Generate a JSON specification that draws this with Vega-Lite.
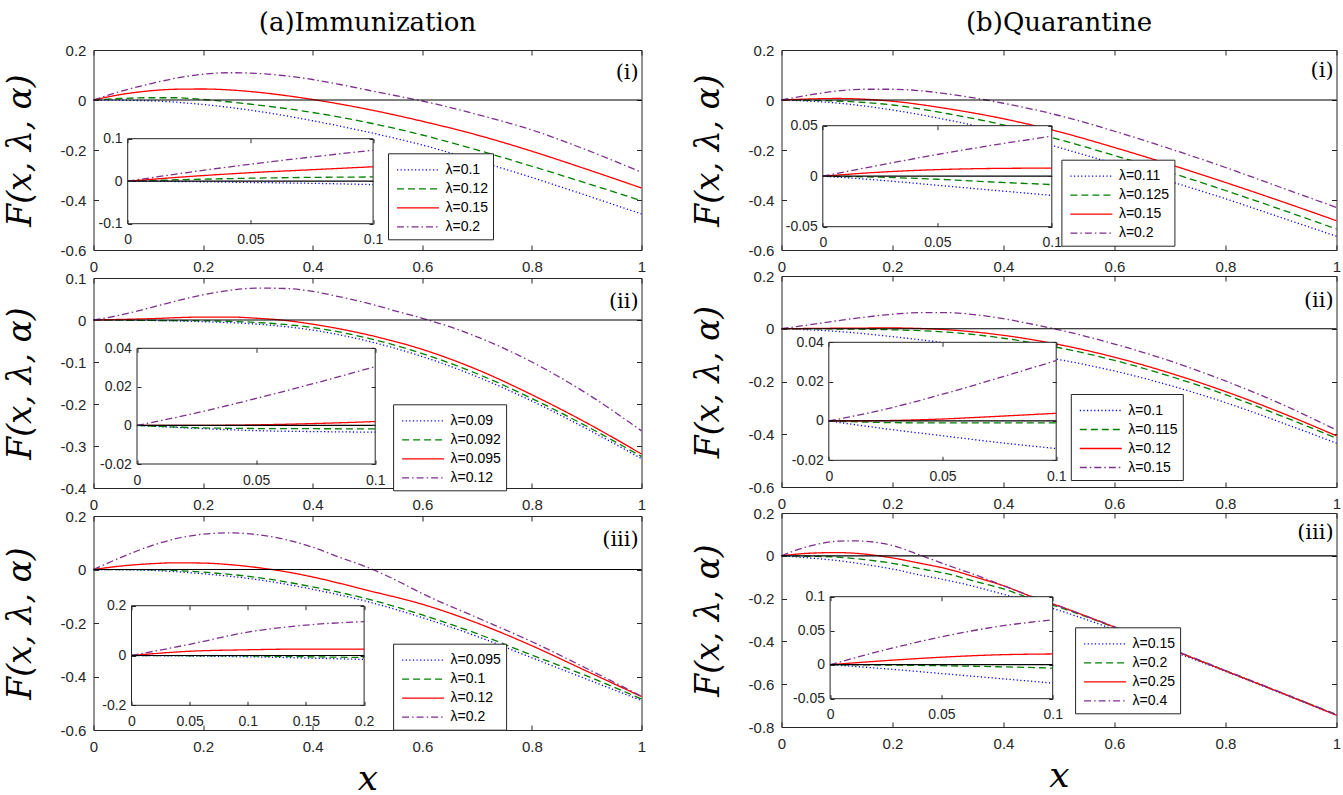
{
"padding": {"left": 3.5, "top": 9, "right": 0, "bottom": 0},
"spacing": 45,
"resolve": {"scale": {"color": "independent", "strokeDash": "independent"}},
"config": {
  "view": {"stroke": "#262626", "strokeWidth": 1},
  "numberFormat": "~g",
  "locale": {"number": {"decimal": ".", "thousands": ",", "grouping": [3], "currency": ["$", ""], "minus": "-"}},
  "line": {"strokeWidth": 1.3, "interpolate": "monotone"},
  "axis": {"grid": false, "domain": false, "tickSize": -5, "tickColor": "#262626", "labelFont": "Liberation Sans", "labelFontSize": 15, "labelColor": "#262626", "labelFlush": false, "labelOverlap": false, "labelBound": false, "titleFont": "DejaVu Serif", "titleFontStyle": "italic", "titleFontWeight": "normal", "titleColor": "#000000"},
  "axisX": {"labelPadding": 14.5, "titleAngle": 0, "titleBaseline": "alphabetic", "titleAlign": "center", "titleFontSize": 36},
  "axisY": {"labelPadding": 12.6, "titleX": -73, "titleAngle": -90, "titleBaseline": "middle", "titleAlign": "center", "titleFontSize": 33},
  "legend": {"symbolType": "M-2,0H2", "symbolSize": 441, "symbolStrokeWidth": 1.3, "labelFont": "Liberation Sans", "labelFontSize": 14, "labelColor": "#000000", "padding": 5, "rowPadding": 0, "labelOffset": 16, "symbolOffset": 13.5, "strokeColor": "#262626", "fillColor": "#ffffff"},
  "title": {"font": "DejaVu Serif", "fontSize": 26, "fontWeight": "normal", "color": "#000000", "anchor": "middle", "frame": "group", "offset": 7}
},
"datasets": {
"ai": [
{"s":"λ=0.1","x":0,"y":0},{"s":"λ=0.1","x":0.1,"y":-0.003},{"s":"λ=0.1","x":0.2,"y":-0.018},{"s":"λ=0.1","x":0.3,"y":-0.045},{"s":"λ=0.1","x":0.4,"y":-0.083},{"s":"λ=0.1","x":0.5,"y":-0.128},{"s":"λ=0.1","x":0.6,"y":-0.18},{"s":"λ=0.1","x":0.7,"y":-0.243},{"s":"λ=0.1","x":0.8,"y":-0.31},{"s":"λ=0.1","x":0.9,"y":-0.382},{"s":"λ=0.1","x":1,"y":-0.456},
{"s":"λ=0.12","x":0,"y":0},{"s":"λ=0.12","x":0.05,"y":0.006},{"s":"λ=0.12","x":0.1,"y":0.009},{"s":"λ=0.12","x":0.15,"y":0.009},{"s":"λ=0.12","x":0.2,"y":0.002},{"s":"λ=0.12","x":0.25,"y":-0.008},{"s":"λ=0.12","x":0.3,"y":-0.02},{"s":"λ=0.12","x":0.4,"y":-0.05},{"s":"λ=0.12","x":0.5,"y":-0.09},{"s":"λ=0.12","x":0.6,"y":-0.14},{"s":"λ=0.12","x":0.7,"y":-0.2},{"s":"λ=0.12","x":0.8,"y":-0.265},{"s":"λ=0.12","x":0.9,"y":-0.333},{"s":"λ=0.12","x":1,"y":-0.403},
{"s":"λ=0.15","x":0,"y":0},{"s":"λ=0.15","x":0.05,"y":0.022},{"s":"λ=0.15","x":0.1,"y":0.036},{"s":"λ=0.15","x":0.15,"y":0.043},{"s":"λ=0.15","x":0.2,"y":0.044},{"s":"λ=0.15","x":0.25,"y":0.04},{"s":"λ=0.15","x":0.3,"y":0.031},{"s":"λ=0.15","x":0.35,"y":0.018},{"s":"λ=0.15","x":0.4,"y":0.002},{"s":"λ=0.15","x":0.5,"y":-0.037},{"s":"λ=0.15","x":0.6,"y":-0.085},{"s":"λ=0.15","x":0.7,"y":-0.14},{"s":"λ=0.15","x":0.8,"y":-0.205},{"s":"λ=0.15","x":0.9,"y":-0.277},{"s":"λ=0.15","x":1,"y":-0.352},
{"s":"λ=0.2","x":0,"y":0},{"s":"λ=0.2","x":0.05,"y":0.035},{"s":"λ=0.2","x":0.1,"y":0.063},{"s":"λ=0.2","x":0.15,"y":0.087},{"s":"λ=0.2","x":0.2,"y":0.103},{"s":"λ=0.2","x":0.25,"y":0.109},{"s":"λ=0.2","x":0.3,"y":0.106},{"s":"λ=0.2","x":0.35,"y":0.097},{"s":"λ=0.2","x":0.4,"y":0.082},{"s":"λ=0.2","x":0.45,"y":0.062},{"s":"λ=0.2","x":0.5,"y":0.04},{"s":"λ=0.2","x":0.55,"y":0.018},{"s":"λ=0.2","x":0.6,"y":-0.004},{"s":"λ=0.2","x":0.7,"y":-0.058},{"s":"λ=0.2","x":0.8,"y":-0.12},{"s":"λ=0.2","x":0.9,"y":-0.2},{"s":"λ=0.2","x":1,"y":-0.289}
],
"ai_in": [
{"s":"λ=0.1","x":0,"y":0},{"s":"λ=0.1","x":0.025,"y":-0.001},{"s":"λ=0.1","x":0.05,"y":-0.003},{"s":"λ=0.1","x":0.075,"y":-0.005},{"s":"λ=0.1","x":0.1,"y":-0.008},
{"s":"λ=0.12","x":0,"y":0},{"s":"λ=0.12","x":0.025,"y":0.004},{"s":"λ=0.12","x":0.05,"y":0.007},{"s":"λ=0.12","x":0.075,"y":0.009},{"s":"λ=0.12","x":0.1,"y":0.01},
{"s":"λ=0.15","x":0,"y":0},{"s":"λ=0.15","x":0.025,"y":0.011},{"s":"λ=0.15","x":0.05,"y":0.02},{"s":"λ=0.15","x":0.075,"y":0.027},{"s":"λ=0.15","x":0.1,"y":0.034},
{"s":"λ=0.2","x":0,"y":0},{"s":"λ=0.2","x":0.025,"y":0.021},{"s":"λ=0.2","x":0.05,"y":0.04},{"s":"λ=0.2","x":0.075,"y":0.057},{"s":"λ=0.2","x":0.1,"y":0.073}
],
"aii": [
{"s":"λ=0.09","x":0,"y":0},{"s":"λ=0.09","x":0.1,"y":-0.001},{"s":"λ=0.09","x":0.2,"y":-0.004},{"s":"λ=0.09","x":0.3,"y":-0.01},{"s":"λ=0.09","x":0.4,"y":-0.024},{"s":"λ=0.09","x":0.5,"y":-0.05},{"s":"λ=0.09","x":0.6,"y":-0.087},{"s":"λ=0.09","x":0.7,"y":-0.135},{"s":"λ=0.09","x":0.8,"y":-0.193},{"s":"λ=0.09","x":0.9,"y":-0.259},{"s":"λ=0.09","x":1,"y":-0.33},
{"s":"λ=0.092","x":0,"y":0},{"s":"λ=0.092","x":0.1,"y":-0.001},{"s":"λ=0.092","x":0.2,"y":-0.002},{"s":"λ=0.092","x":0.3,"y":-0.006},{"s":"λ=0.092","x":0.4,"y":-0.018},{"s":"λ=0.092","x":0.5,"y":-0.043},{"s":"λ=0.092","x":0.6,"y":-0.08},{"s":"λ=0.092","x":0.7,"y":-0.128},{"s":"λ=0.092","x":0.8,"y":-0.187},{"s":"λ=0.092","x":0.9,"y":-0.253},{"s":"λ=0.092","x":1,"y":-0.325},
{"s":"λ=0.095","x":0,"y":0},{"s":"λ=0.095","x":0.1,"y":0.003},{"s":"λ=0.095","x":0.2,"y":0.007},{"s":"λ=0.095","x":0.25,"y":0.007},{"s":"λ=0.095","x":0.3,"y":0.004},{"s":"λ=0.095","x":0.35,"y":-0.001},{"s":"λ=0.095","x":0.4,"y":-0.01},{"s":"λ=0.095","x":0.5,"y":-0.035},{"s":"λ=0.095","x":0.6,"y":-0.07},{"s":"λ=0.095","x":0.7,"y":-0.118},{"s":"λ=0.095","x":0.8,"y":-0.178},{"s":"λ=0.095","x":0.9,"y":-0.245},{"s":"λ=0.095","x":1,"y":-0.319},
{"s":"λ=0.12","x":0,"y":0},{"s":"λ=0.12","x":0.05,"y":0.012},{"s":"λ=0.12","x":0.1,"y":0.028},{"s":"λ=0.12","x":0.15,"y":0.045},{"s":"λ=0.12","x":0.2,"y":0.06},{"s":"λ=0.12","x":0.25,"y":0.071},{"s":"λ=0.12","x":0.3,"y":0.076},{"s":"λ=0.12","x":0.35,"y":0.075},{"s":"λ=0.12","x":0.4,"y":0.068},{"s":"λ=0.12","x":0.45,"y":0.055},{"s":"λ=0.12","x":0.5,"y":0.04},{"s":"λ=0.12","x":0.55,"y":0.022},{"s":"λ=0.12","x":0.6,"y":0.004},{"s":"λ=0.12","x":0.65,"y":-0.016},{"s":"λ=0.12","x":0.7,"y":-0.04},{"s":"λ=0.12","x":0.8,"y":-0.1},{"s":"λ=0.12","x":0.9,"y":-0.175},{"s":"λ=0.12","x":1,"y":-0.264}
],
"aii_in": [
{"s":"λ=0.09","x":0,"y":0},{"s":"λ=0.09","x":0.025,"y":-0.0015},{"s":"λ=0.09","x":0.05,"y":-0.0027},{"s":"λ=0.09","x":0.075,"y":-0.0032},{"s":"λ=0.09","x":0.1,"y":-0.0035},
{"s":"λ=0.092","x":0,"y":0},{"s":"λ=0.092","x":0.025,"y":-0.0012},{"s":"λ=0.092","x":0.05,"y":-0.0016},{"s":"λ=0.092","x":0.075,"y":-0.0017},{"s":"λ=0.092","x":0.1,"y":-0.0018},
{"s":"λ=0.095","x":0,"y":0},{"s":"λ=0.095","x":0.025,"y":0},{"s":"λ=0.095","x":0.05,"y":0.0003},{"s":"λ=0.095","x":0.075,"y":0.001},{"s":"λ=0.095","x":0.1,"y":0.002},
{"s":"λ=0.12","x":0,"y":0},{"s":"λ=0.12","x":0.025,"y":0.0065},{"s":"λ=0.12","x":0.05,"y":0.014},{"s":"λ=0.12","x":0.075,"y":0.022},{"s":"λ=0.12","x":0.1,"y":0.0305}
],
"aiii": [
{"s":"λ=0.095","x":0,"y":0},{"s":"λ=0.095","x":0.1,"y":-0.003},{"s":"λ=0.095","x":0.2,"y":-0.016},{"s":"λ=0.095","x":0.3,"y":-0.038},{"s":"λ=0.095","x":0.4,"y":-0.074},{"s":"λ=0.095","x":0.5,"y":-0.12},{"s":"λ=0.095","x":0.6,"y":-0.18},{"s":"λ=0.095","x":0.7,"y":-0.25},{"s":"λ=0.095","x":0.8,"y":-0.33},{"s":"λ=0.095","x":0.9,"y":-0.41},{"s":"λ=0.095","x":1,"y":-0.49},
{"s":"λ=0.1","x":0,"y":0},{"s":"λ=0.1","x":0.1,"y":-0.001},{"s":"λ=0.1","x":0.2,"y":-0.01},{"s":"λ=0.1","x":0.3,"y":-0.03},{"s":"λ=0.1","x":0.4,"y":-0.065},{"s":"λ=0.1","x":0.5,"y":-0.11},{"s":"λ=0.1","x":0.6,"y":-0.17},{"s":"λ=0.1","x":0.7,"y":-0.24},{"s":"λ=0.1","x":0.8,"y":-0.32},{"s":"λ=0.1","x":0.9,"y":-0.398},{"s":"λ=0.1","x":1,"y":-0.484},
{"s":"λ=0.12","x":0,"y":0},{"s":"λ=0.12","x":0.05,"y":0.013},{"s":"λ=0.12","x":0.1,"y":0.021},{"s":"λ=0.12","x":0.15,"y":0.025},{"s":"λ=0.12","x":0.2,"y":0.024},{"s":"λ=0.12","x":0.25,"y":0.018},{"s":"λ=0.12","x":0.3,"y":0.007},{"s":"λ=0.12","x":0.35,"y":-0.008},{"s":"λ=0.12","x":0.4,"y":-0.028},{"s":"λ=0.12","x":0.5,"y":-0.078},{"s":"λ=0.12","x":0.6,"y":-0.13},{"s":"λ=0.12","x":0.7,"y":-0.2},{"s":"λ=0.12","x":0.8,"y":-0.285},{"s":"λ=0.12","x":0.9,"y":-0.38},{"s":"λ=0.12","x":1,"y":-0.475},
{"s":"λ=0.2","x":0,"y":0},{"s":"λ=0.2","x":0.05,"y":0.045},{"s":"λ=0.2","x":0.1,"y":0.085},{"s":"λ=0.2","x":0.15,"y":0.115},{"s":"λ=0.2","x":0.2,"y":0.132},{"s":"λ=0.2","x":0.25,"y":0.137},{"s":"λ=0.2","x":0.3,"y":0.13},{"s":"λ=0.2","x":0.35,"y":0.112},{"s":"λ=0.2","x":0.4,"y":0.083},{"s":"λ=0.2","x":0.45,"y":0.045},{"s":"λ=0.2","x":0.5,"y":0.008},{"s":"λ=0.2","x":0.55,"y":-0.038},{"s":"λ=0.2","x":0.6,"y":-0.09},{"s":"λ=0.2","x":0.7,"y":-0.18},{"s":"λ=0.2","x":0.8,"y":-0.27},{"s":"λ=0.2","x":0.9,"y":-0.37},{"s":"λ=0.2","x":1,"y":-0.474}
],
"aiii_in": [
{"s":"λ=0.095","x":0,"y":0},{"s":"λ=0.095","x":0.05,"y":-0.002},{"s":"λ=0.095","x":0.1,"y":-0.005},{"s":"λ=0.095","x":0.15,"y":-0.01},{"s":"λ=0.095","x":0.2,"y":-0.016},
{"s":"λ=0.1","x":0,"y":0},{"s":"λ=0.1","x":0.05,"y":-0.001},{"s":"λ=0.1","x":0.1,"y":-0.002},{"s":"λ=0.1","x":0.15,"y":-0.005},{"s":"λ=0.1","x":0.2,"y":-0.008},
{"s":"λ=0.12","x":0,"y":0},{"s":"λ=0.12","x":0.05,"y":0.017},{"s":"λ=0.12","x":0.1,"y":0.023},{"s":"λ=0.12","x":0.15,"y":0.026},{"s":"λ=0.12","x":0.2,"y":0.026},
{"s":"λ=0.2","x":0,"y":0},{"s":"λ=0.2","x":0.05,"y":0.045},{"s":"λ=0.2","x":0.1,"y":0.094},{"s":"λ=0.2","x":0.15,"y":0.122},{"s":"λ=0.2","x":0.2,"y":0.136}
],
"bi": [
{"s":"λ=0.11","x":0,"y":0},{"s":"λ=0.11","x":0.1,"y":-0.012},{"s":"λ=0.11","x":0.2,"y":-0.04},{"s":"λ=0.11","x":0.3,"y":-0.08},{"s":"λ=0.11","x":0.4,"y":-0.13},{"s":"λ=0.11","x":0.5,"y":-0.19},{"s":"λ=0.11","x":0.6,"y":-0.255},{"s":"λ=0.11","x":0.7,"y":-0.325},{"s":"λ=0.11","x":0.8,"y":-0.395},{"s":"λ=0.11","x":0.9,"y":-0.47},{"s":"λ=0.11","x":1,"y":-0.545},
{"s":"λ=0.125","x":0,"y":0},{"s":"λ=0.125","x":0.1,"y":-0.004},{"s":"λ=0.125","x":0.2,"y":-0.02},{"s":"λ=0.125","x":0.3,"y":-0.055},{"s":"λ=0.125","x":0.4,"y":-0.1},{"s":"λ=0.125","x":0.5,"y":-0.158},{"s":"λ=0.125","x":0.6,"y":-0.222},{"s":"λ=0.125","x":0.7,"y":-0.29},{"s":"λ=0.125","x":0.8,"y":-0.362},{"s":"λ=0.125","x":0.9,"y":-0.438},{"s":"λ=0.125","x":1,"y":-0.516},
{"s":"λ=0.15","x":0,"y":0},{"s":"λ=0.15","x":0.05,"y":0.004},{"s":"λ=0.15","x":0.1,"y":0.006},{"s":"λ=0.15","x":0.15,"y":0.003},{"s":"λ=0.15","x":0.2,"y":-0.005},{"s":"λ=0.15","x":0.3,"y":-0.035},{"s":"λ=0.15","x":0.4,"y":-0.075},{"s":"λ=0.15","x":0.5,"y":-0.127},{"s":"λ=0.15","x":0.6,"y":-0.19},{"s":"λ=0.15","x":0.7,"y":-0.258},{"s":"λ=0.15","x":0.8,"y":-0.33},{"s":"λ=0.15","x":0.9,"y":-0.405},{"s":"λ=0.15","x":1,"y":-0.483},
{"s":"λ=0.2","x":0,"y":0},{"s":"λ=0.2","x":0.05,"y":0.02},{"s":"λ=0.2","x":0.1,"y":0.036},{"s":"λ=0.2","x":0.15,"y":0.043},{"s":"λ=0.2","x":0.2,"y":0.043},{"s":"λ=0.2","x":0.25,"y":0.037},{"s":"λ=0.2","x":0.3,"y":0.024},{"s":"λ=0.2","x":0.35,"y":0.007},{"s":"λ=0.2","x":0.4,"y":-0.013},{"s":"λ=0.2","x":0.5,"y":-0.062},{"s":"λ=0.2","x":0.6,"y":-0.125},{"s":"λ=0.2","x":0.7,"y":-0.195},{"s":"λ=0.2","x":0.8,"y":-0.27},{"s":"λ=0.2","x":0.9,"y":-0.35},{"s":"λ=0.2","x":1,"y":-0.43}
],
"bi_in": [
{"s":"λ=0.11","x":0,"y":0},{"s":"λ=0.11","x":0.025,"y":-0.004},{"s":"λ=0.11","x":0.05,"y":-0.009},{"s":"λ=0.11","x":0.075,"y":-0.014},{"s":"λ=0.11","x":0.1,"y":-0.019},
{"s":"λ=0.125","x":0,"y":0},{"s":"λ=0.125","x":0.025,"y":-0.001},{"s":"λ=0.125","x":0.05,"y":-0.003},{"s":"λ=0.125","x":0.075,"y":-0.0058},{"s":"λ=0.125","x":0.1,"y":-0.0083},
{"s":"λ=0.15","x":0,"y":0},{"s":"λ=0.15","x":0.025,"y":0.004},{"s":"λ=0.15","x":0.05,"y":0.0065},{"s":"λ=0.15","x":0.075,"y":0.0077},{"s":"λ=0.15","x":0.1,"y":0.008},
{"s":"λ=0.2","x":0,"y":0},{"s":"λ=0.2","x":0.025,"y":0.011},{"s":"λ=0.2","x":0.05,"y":0.0215},{"s":"λ=0.2","x":0.075,"y":0.031},{"s":"λ=0.2","x":0.1,"y":0.0396}
],
"bii": [
{"s":"λ=0.1","x":0,"y":0},{"s":"λ=0.1","x":0.1,"y":-0.01},{"s":"λ=0.1","x":0.2,"y":-0.03},{"s":"λ=0.1","x":0.3,"y":-0.055},{"s":"λ=0.1","x":0.4,"y":-0.085},{"s":"λ=0.1","x":0.5,"y":-0.117},{"s":"λ=0.1","x":0.6,"y":-0.16},{"s":"λ=0.1","x":0.7,"y":-0.215},{"s":"λ=0.1","x":0.8,"y":-0.28},{"s":"λ=0.1","x":0.9,"y":-0.355},{"s":"λ=0.1","x":1,"y":-0.434},
{"s":"λ=0.115","x":0,"y":0},{"s":"λ=0.115","x":0.1,"y":-0.001},{"s":"λ=0.115","x":0.2,"y":-0.004},{"s":"λ=0.115","x":0.3,"y":-0.013},{"s":"λ=0.115","x":0.4,"y":-0.036},{"s":"λ=0.115","x":0.5,"y":-0.072},{"s":"λ=0.115","x":0.6,"y":-0.12},{"s":"λ=0.115","x":0.7,"y":-0.18},{"s":"λ=0.115","x":0.8,"y":-0.25},{"s":"λ=0.115","x":0.9,"y":-0.33},{"s":"λ=0.115","x":1,"y":-0.415},
{"s":"λ=0.12","x":0,"y":0},{"s":"λ=0.12","x":0.1,"y":0.002},{"s":"λ=0.12","x":0.2,"y":0.003},{"s":"λ=0.12","x":0.25,"y":0.001},{"s":"λ=0.12","x":0.3,"y":-0.004},{"s":"λ=0.12","x":0.4,"y":-0.025},{"s":"λ=0.12","x":0.5,"y":-0.06},{"s":"λ=0.12","x":0.6,"y":-0.108},{"s":"λ=0.12","x":0.7,"y":-0.168},{"s":"λ=0.12","x":0.8,"y":-0.238},{"s":"λ=0.12","x":0.9,"y":-0.318},{"s":"λ=0.12","x":1,"y":-0.406},
{"s":"λ=0.15","x":0,"y":0},{"s":"λ=0.15","x":0.05,"y":0.015},{"s":"λ=0.15","x":0.1,"y":0.03},{"s":"λ=0.15","x":0.15,"y":0.044},{"s":"λ=0.15","x":0.2,"y":0.055},{"s":"λ=0.15","x":0.25,"y":0.061},{"s":"λ=0.15","x":0.3,"y":0.061},{"s":"λ=0.15","x":0.35,"y":0.053},{"s":"λ=0.15","x":0.4,"y":0.038},{"s":"λ=0.15","x":0.45,"y":0.018},{"s":"λ=0.15","x":0.5,"y":-0.004},{"s":"λ=0.15","x":0.6,"y":-0.058},{"s":"λ=0.15","x":0.7,"y":-0.122},{"s":"λ=0.15","x":0.8,"y":-0.198},{"s":"λ=0.15","x":0.9,"y":-0.285},{"s":"λ=0.15","x":1,"y":-0.384}
],
"bii_in": [
{"s":"λ=0.1","x":0,"y":0},{"s":"λ=0.1","x":0.025,"y":-0.004},{"s":"λ=0.1","x":0.05,"y":-0.0075},{"s":"λ=0.1","x":0.075,"y":-0.011},{"s":"λ=0.1","x":0.1,"y":-0.014},
{"s":"λ=0.115","x":0,"y":0},{"s":"λ=0.115","x":0.025,"y":-0.0008},{"s":"λ=0.115","x":0.05,"y":-0.001},{"s":"λ=0.115","x":0.075,"y":-0.001},{"s":"λ=0.115","x":0.1,"y":-0.001},
{"s":"λ=0.12","x":0,"y":0},{"s":"λ=0.12","x":0.025,"y":0.0002},{"s":"λ=0.12","x":0.05,"y":0.001},{"s":"λ=0.12","x":0.075,"y":0.0024},{"s":"λ=0.12","x":0.1,"y":0.0039},
{"s":"λ=0.15","x":0,"y":0},{"s":"λ=0.15","x":0.025,"y":0.006},{"s":"λ=0.15","x":0.05,"y":0.0136},{"s":"λ=0.15","x":0.075,"y":0.022},{"s":"λ=0.15","x":0.1,"y":0.0307}
],
"biii": [
{"s":"λ=0.15","x":0,"y":0},{"s":"λ=0.15","x":0.05,"y":-0.01},{"s":"λ=0.15","x":0.1,"y":-0.022},{"s":"λ=0.15","x":0.15,"y":-0.04},{"s":"λ=0.15","x":0.2,"y":-0.062},{"s":"λ=0.15","x":0.25,"y":-0.09},{"s":"λ=0.15","x":0.3,"y":-0.115},{"s":"λ=0.15","x":0.35,"y":-0.145},{"s":"λ=0.15","x":0.4,"y":-0.18},{"s":"λ=0.15","x":0.45,"y":-0.215},{"s":"λ=0.15","x":0.5,"y":-0.255},{"s":"λ=0.15","x":0.6,"y":-0.345},{"s":"λ=0.15","x":0.7,"y":-0.442},{"s":"λ=0.15","x":0.8,"y":-0.54},{"s":"λ=0.15","x":0.9,"y":-0.642},{"s":"λ=0.15","x":1,"y":-0.745},
{"s":"λ=0.2","x":0,"y":0},{"s":"λ=0.2","x":0.05,"y":-0.002},{"s":"λ=0.2","x":0.1,"y":-0.006},{"s":"λ=0.2","x":0.15,"y":-0.018},{"s":"λ=0.2","x":0.2,"y":-0.035},{"s":"λ=0.2","x":0.25,"y":-0.06},{"s":"λ=0.2","x":0.3,"y":-0.085},{"s":"λ=0.2","x":0.35,"y":-0.12},{"s":"λ=0.2","x":0.4,"y":-0.155},{"s":"λ=0.2","x":0.45,"y":-0.2},{"s":"λ=0.2","x":0.5,"y":-0.24},{"s":"λ=0.2","x":0.6,"y":-0.335},{"s":"λ=0.2","x":0.7,"y":-0.435},{"s":"λ=0.2","x":0.8,"y":-0.537},{"s":"λ=0.2","x":0.9,"y":-0.64},{"s":"λ=0.2","x":1,"y":-0.742},
{"s":"λ=0.25","x":0,"y":0},{"s":"λ=0.25","x":0.05,"y":0.012},{"s":"λ=0.25","x":0.1,"y":0.015},{"s":"λ=0.25","x":0.15,"y":0.008},{"s":"λ=0.25","x":0.2,"y":-0.01},{"s":"λ=0.25","x":0.25,"y":-0.035},{"s":"λ=0.25","x":0.3,"y":-0.062},{"s":"λ=0.25","x":0.35,"y":-0.1},{"s":"λ=0.25","x":0.4,"y":-0.14},{"s":"λ=0.25","x":0.45,"y":-0.19},{"s":"λ=0.25","x":0.5,"y":-0.235},{"s":"λ=0.25","x":0.6,"y":-0.333},{"s":"λ=0.25","x":0.7,"y":-0.435},{"s":"λ=0.25","x":0.8,"y":-0.538},{"s":"λ=0.25","x":0.9,"y":-0.64},{"s":"λ=0.25","x":1,"y":-0.745},
{"s":"λ=0.4","x":0,"y":0},{"s":"λ=0.4","x":0.025,"y":0.025},{"s":"λ=0.4","x":0.05,"y":0.045},{"s":"λ=0.4","x":0.1,"y":0.068},{"s":"λ=0.4","x":0.125,"y":0.07},{"s":"λ=0.4","x":0.15,"y":0.068},{"s":"λ=0.4","x":0.2,"y":0.048},{"s":"λ=0.4","x":0.25,"y":0.003},{"s":"λ=0.4","x":0.3,"y":-0.045},{"s":"λ=0.4","x":0.35,"y":-0.09},{"s":"λ=0.4","x":0.4,"y":-0.14},{"s":"λ=0.4","x":0.45,"y":-0.19},{"s":"λ=0.4","x":0.5,"y":-0.235},{"s":"λ=0.4","x":0.6,"y":-0.332},{"s":"λ=0.4","x":0.7,"y":-0.433},{"s":"λ=0.4","x":0.8,"y":-0.536},{"s":"λ=0.4","x":0.9,"y":-0.638},{"s":"λ=0.4","x":1,"y":-0.743}
],
"biii_in": [
{"s":"λ=0.15","x":0,"y":0},{"s":"λ=0.15","x":0.025,"y":-0.006},{"s":"λ=0.15","x":0.05,"y":-0.013},{"s":"λ=0.15","x":0.075,"y":-0.02},{"s":"λ=0.15","x":0.1,"y":-0.027},
{"s":"λ=0.2","x":0,"y":0},{"s":"λ=0.2","x":0.025,"y":-0.0005},{"s":"λ=0.2","x":0.05,"y":-0.0015},{"s":"λ=0.2","x":0.075,"y":-0.003},{"s":"λ=0.2","x":0.1,"y":-0.005},
{"s":"λ=0.25","x":0,"y":0},{"s":"λ=0.25","x":0.025,"y":0.006},{"s":"λ=0.25","x":0.05,"y":0.011},{"s":"λ=0.25","x":0.075,"y":0.0145},{"s":"λ=0.25","x":0.1,"y":0.0158},
{"s":"λ=0.4","x":0,"y":0},{"s":"λ=0.4","x":0.025,"y":0.022},{"s":"λ=0.4","x":0.05,"y":0.041},{"s":"λ=0.4","x":0.075,"y":0.056},{"s":"λ=0.4","x":0.1,"y":0.066}
]
},
"hconcat": [
{
"title": {"text": "(a)Immunization", "dx": 274},
"bounds": "flush",
"spacing": 28,
"resolve": {"scale": {"color": "independent", "strokeDash": "independent"}},
"vconcat": [
{
"width": 548, "height": 200,
"resolve": {"scale": {"x": "independent", "y": "independent"}},
"layer": [
{"resolve": {"axis": {"x": "independent", "y": "independent"}},
 "layer": [
  {"data": {"name": "ai"}, "mark": "line", "encoding": {
    "x": {"field": "x", "type": "quantitative", "scale": {"domain": [0, 1]}, "axis": {"orient": "bottom", "values": [0, 0.2, 0.4, 0.6, 0.8, 1], "title": null}},
    "y": {"field": "y", "type": "quantitative", "scale": {"domain": [-0.6, 0.2]}, "axis": {"orient": "left", "values": [-0.6, -0.4, -0.2, 0, 0.2], "title": "F(x, λ, α)", "titleY": 100}},
    "color": {"field": "s", "type": "nominal", "scale": {"domain": ["λ=0.1", "λ=0.12", "λ=0.15", "λ=0.2"], "range": ["#0000ff", "#008000", "#ff0000", "#7e2f8e"]}, "legend": {"orient": "none", "legendX": 294.5, "legendY": 103.3, "title": null}},
    "strokeDash": {"field": "s", "type": "nominal", "scale": {"domain": ["λ=0.1", "λ=0.12", "λ=0.15", "λ=0.2"], "range": [[1.2, 2.4], [7, 4], [1, 0], [7, 3, 1.5, 3]]}, "legend": {"orient": "none", "legendX": 294.5, "legendY": 103.3, "title": null}}
  }},
  {"data": {"values": [{}]}, "mark": {"type": "rule", "color": "#000000", "strokeWidth": 1.2}, "encoding": {"y": {"datum": 0, "type": "quantitative", "scale": {"domain": [-0.6, 0.2]}, "axis": null}}},
  {"data": {"values": [{}]}, "mark": {"type": "text", "font": "DejaVu Serif", "fontSize": 21, "align": "right", "baseline": "middle"}, "encoding": {
    "text": {"value": "(i)"},
    "x": {"datum": 0.995, "type": "quantitative", "scale": {"domain": [0, 1]}, "axis": {"orient": "top", "values": [0, 0.2, 0.4, 0.6, 0.8, 1], "labels": false, "title": null}},
    "y": {"datum": 0.108, "type": "quantitative", "scale": {"domain": [-0.6, 0.2]}, "axis": {"orient": "right", "values": [-0.6, -0.4, -0.2, 0, 0.2], "labels": false, "title": null}}
  }}
 ]},
{"resolve": {"axis": {"x": "independent", "y": "independent"}},
 "layer": [
  {"data": {"values": [{}]}, "mark": {"type": "rect", "fill": "#ffffff", "stroke": "#262626", "strokeWidth": 1}, "encoding": {
    "x": {"datum": 0, "type": "quantitative", "scale": {"domain": [0, 0.1], "range": [34.2, 279.6]}, "axis": {"orient": "bottom", "offset": -26.3, "values": [0, 0.05, 0.1], "title": null, "zindex": 1, "tickSize": -4, "labelPadding": 13, "labelFontSize": 14}},
    "x2": {"datum": 0.1},
    "y": {"datum": -0.1, "type": "quantitative", "scale": {"domain": [-0.1, 0.1], "range": [173.7, 88.7]}, "axis": {"orient": "left", "offset": -34.2, "values": [-0.1, 0, 0.1], "title": null, "zindex": 1, "tickSize": -4, "labelPadding": 9.6, "labelFontSize": 14}},
    "y2": {"datum": 0.1}
  }},
  {"data": {"name": "ai_in"}, "mark": "line", "encoding": {
    "x": {"field": "x", "type": "quantitative", "scale": {"domain": [0, 0.1], "range": [34.2, 279.6]}, "axis": null},
    "y": {"field": "y", "type": "quantitative", "scale": {"domain": [-0.1, 0.1], "range": [173.7, 88.7]}, "axis": null},
    "color": {"field": "s", "type": "nominal", "scale": {"domain": ["λ=0.1", "λ=0.12", "λ=0.15", "λ=0.2"], "range": ["#0000ff", "#008000", "#ff0000", "#7e2f8e"]}, "legend": {"orient": "none", "legendX": 294.5, "legendY": 103.3, "title": null}},
    "strokeDash": {"field": "s", "type": "nominal", "scale": {"domain": ["λ=0.1", "λ=0.12", "λ=0.15", "λ=0.2"], "range": [[1.2, 2.4], [7, 4], [1, 0], [7, 3, 1.5, 3]]}, "legend": {"orient": "none", "legendX": 294.5, "legendY": 103.3, "title": null}}
  }},
  {"data": {"values": [{}]}, "mark": {"type": "rule", "color": "#000000", "strokeWidth": 1.2}, "encoding": {
    "x": {"datum": 0, "type": "quantitative", "scale": {"domain": [0, 0.1], "range": [34.2, 279.6]}, "axis": {"orient": "top", "offset": -88.7, "values": [0, 0.05, 0.1], "labels": false, "title": null, "zindex": 1, "tickSize": -4}},
    "x2": {"datum": 0.1},
    "y": {"datum": 0, "type": "quantitative", "scale": {"domain": [-0.1, 0.1], "range": [173.7, 88.7]}, "axis": {"orient": "right", "offset": -268.4, "values": [-0.1, 0, 0.1], "labels": false, "title": null, "zindex": 1, "tickSize": -4}}
  }}
 ]}
]
},
{
"width": 548, "height": 210,
"resolve": {"scale": {"x": "independent", "y": "independent"}},
"layer": [
{"resolve": {"axis": {"x": "independent", "y": "independent"}},
 "layer": [
  {"data": {"name": "aii"}, "mark": "line", "encoding": {
    "x": {"field": "x", "type": "quantitative", "scale": {"domain": [0, 1]}, "axis": {"orient": "bottom", "values": [0, 0.2, 0.4, 0.6, 0.8, 1], "title": null}},
    "y": {"field": "y", "type": "quantitative", "scale": {"domain": [-0.4, 0.1]}, "axis": {"orient": "left", "values": [-0.4, -0.3, -0.2, -0.1, 0, 0.1], "title": "F(x, λ, α)", "titleY": 105}},
    "color": {"field": "s", "type": "nominal", "scale": {"domain": ["λ=0.09", "λ=0.092", "λ=0.095", "λ=0.12"], "range": ["#0000ff", "#008000", "#ff0000", "#7e2f8e"]}, "legend": {"orient": "none", "legendX": 299.6, "legendY": 126.3, "title": null}},
    "strokeDash": {"field": "s", "type": "nominal", "scale": {"domain": ["λ=0.09", "λ=0.092", "λ=0.095", "λ=0.12"], "range": [[1.2, 2.4], [7, 4], [1, 0], [7, 3, 1.5, 3]]}, "legend": {"orient": "none", "legendX": 299.6, "legendY": 126.3, "title": null}}
  }},
  {"data": {"values": [{}]}, "mark": {"type": "rule", "color": "#000000", "strokeWidth": 1.2}, "encoding": {"y": {"datum": 0, "type": "quantitative", "scale": {"domain": [-0.4, 0.1]}, "axis": null}}},
  {"data": {"values": [{}]}, "mark": {"type": "text", "font": "DejaVu Serif", "fontSize": 21, "align": "right", "baseline": "middle"}, "encoding": {
    "text": {"value": "(ii)"},
    "x": {"datum": 0.995, "type": "quantitative", "scale": {"domain": [0, 1]}, "axis": {"orient": "top", "values": [0, 0.2, 0.4, 0.6, 0.8, 1], "labels": false, "title": null}},
    "y": {"datum": 0.044, "type": "quantitative", "scale": {"domain": [-0.4, 0.1]}, "axis": {"orient": "right", "values": [-0.4, -0.3, -0.2, -0.1, 0, 0.1], "labels": false, "title": null}}
  }}
 ]},
{"resolve": {"axis": {"x": "independent", "y": "independent"}},
 "layer": [
  {"data": {"values": [{}]}, "mark": {"type": "rect", "fill": "#ffffff", "stroke": "#262626", "strokeWidth": 1}, "encoding": {
    "x": {"datum": 0, "type": "quantitative", "scale": {"domain": [0, 0.1], "range": [43.5, 281.7]}, "axis": {"orient": "bottom", "offset": -24, "values": [0, 0.05, 0.1], "title": null, "zindex": 1, "tickSize": -4, "labelPadding": 13, "labelFontSize": 14}},
    "x2": {"datum": 0.1},
    "y": {"datum": -0.02, "type": "quantitative", "scale": {"domain": [-0.02, 0.04], "range": [186, 70.3]}, "axis": {"orient": "left", "offset": -43.5, "values": [-0.02, 0, 0.02, 0.04], "title": null, "zindex": 1, "tickSize": -4, "labelPadding": 9.6, "labelFontSize": 14}},
    "y2": {"datum": 0.04}
  }},
  {"data": {"name": "aii_in"}, "mark": "line", "encoding": {
    "x": {"field": "x", "type": "quantitative", "scale": {"domain": [0, 0.1], "range": [43.5, 281.7]}, "axis": null},
    "y": {"field": "y", "type": "quantitative", "scale": {"domain": [-0.02, 0.04], "range": [186, 70.3]}, "axis": null},
    "color": {"field": "s", "type": "nominal", "scale": {"domain": ["λ=0.09", "λ=0.092", "λ=0.095", "λ=0.12"], "range": ["#0000ff", "#008000", "#ff0000", "#7e2f8e"]}, "legend": {"orient": "none", "legendX": 299.6, "legendY": 126.3, "title": null}},
    "strokeDash": {"field": "s", "type": "nominal", "scale": {"domain": ["λ=0.09", "λ=0.092", "λ=0.095", "λ=0.12"], "range": [[1.2, 2.4], [7, 4], [1, 0], [7, 3, 1.5, 3]]}, "legend": {"orient": "none", "legendX": 299.6, "legendY": 126.3, "title": null}}
  }},
  {"data": {"values": [{}]}, "mark": {"type": "rule", "color": "#000000", "strokeWidth": 1.2}, "encoding": {
    "x": {"datum": 0, "type": "quantitative", "scale": {"domain": [0, 0.1], "range": [43.5, 281.7]}, "axis": {"orient": "top", "offset": -70.3, "values": [0, 0.05, 0.1], "labels": false, "title": null, "zindex": 1, "tickSize": -4}},
    "x2": {"datum": 0.1},
    "y": {"datum": 0, "type": "quantitative", "scale": {"domain": [-0.02, 0.04], "range": [186, 70.3]}, "axis": {"orient": "right", "offset": -266.3, "values": [-0.02, 0, 0.02, 0.04], "labels": false, "title": null, "zindex": 1, "tickSize": -4}}
  }}
 ]}
]
},
{
"width": 548, "height": 214,
"resolve": {"scale": {"x": "independent", "y": "independent"}},
"layer": [
{"resolve": {"axis": {"x": "independent", "y": "independent"}},
 "layer": [
  {"data": {"name": "aiii"}, "mark": "line", "encoding": {
    "x": {"field": "x", "type": "quantitative", "scale": {"domain": [0, 1]}, "axis": {"orient": "bottom", "values": [0, 0.2, 0.4, 0.6, 0.8, 1], "title": "x", "titleX": 274, "titleY": 59}},
    "y": {"field": "y", "type": "quantitative", "scale": {"domain": [-0.6, 0.2]}, "axis": {"orient": "left", "values": [-0.6, -0.4, -0.2, 0, 0.2], "title": "F(x, λ, α)", "titleY": 107}},
    "color": {"field": "s", "type": "nominal", "scale": {"domain": ["λ=0.095", "λ=0.1", "λ=0.12", "λ=0.2"], "range": ["#0000ff", "#008000", "#ff0000", "#7e2f8e"]}, "legend": {"orient": "none", "legendX": 299.6, "legendY": 127.7, "title": null}},
    "strokeDash": {"field": "s", "type": "nominal", "scale": {"domain": ["λ=0.095", "λ=0.1", "λ=0.12", "λ=0.2"], "range": [[1.2, 2.4], [7, 4], [1, 0], [7, 3, 1.5, 3]]}, "legend": {"orient": "none", "legendX": 299.6, "legendY": 127.7, "title": null}}
  }},
  {"data": {"values": [{}]}, "mark": {"type": "rule", "color": "#000000", "strokeWidth": 1.2}, "encoding": {"y": {"datum": 0, "type": "quantitative", "scale": {"domain": [-0.6, 0.2]}, "axis": null}}},
  {"data": {"values": [{}]}, "mark": {"type": "text", "font": "DejaVu Serif", "fontSize": 21, "align": "right", "baseline": "middle"}, "encoding": {
    "text": {"value": "(iii)"},
    "x": {"datum": 0.995, "type": "quantitative", "scale": {"domain": [0, 1]}, "axis": {"orient": "top", "values": [0, 0.2, 0.4, 0.6, 0.8, 1], "labels": false, "title": null}},
    "y": {"datum": 0.11, "type": "quantitative", "scale": {"domain": [-0.6, 0.2]}, "axis": {"orient": "right", "values": [-0.6, -0.4, -0.2, 0, 0.2], "labels": false, "title": null}}
  }}
 ]},
{"resolve": {"axis": {"x": "independent", "y": "independent"}},
 "layer": [
  {"data": {"values": [{}]}, "mark": {"type": "rect", "fill": "#ffffff", "stroke": "#262626", "strokeWidth": 1}, "encoding": {
    "x": {"datum": 0, "type": "quantitative", "scale": {"domain": [0, 0.2], "range": [38, 270.6]}, "axis": {"orient": "bottom", "offset": -24.7, "values": [0, 0.05, 0.1, 0.15, 0.2], "title": null, "zindex": 1, "tickSize": -4, "labelPadding": 13, "labelFontSize": 14}},
    "x2": {"datum": 0.2},
    "y": {"datum": -0.2, "type": "quantitative", "scale": {"domain": [-0.2, 0.2], "range": [189.3, 89.7]}, "axis": {"orient": "left", "offset": -38, "values": [-0.2, 0, 0.2], "title": null, "zindex": 1, "tickSize": -4, "labelPadding": 9.6, "labelFontSize": 14}},
    "y2": {"datum": 0.2}
  }},
  {"data": {"name": "aiii_in"}, "mark": "line", "encoding": {
    "x": {"field": "x", "type": "quantitative", "scale": {"domain": [0, 0.2], "range": [38, 270.6]}, "axis": null},
    "y": {"field": "y", "type": "quantitative", "scale": {"domain": [-0.2, 0.2], "range": [189.3, 89.7]}, "axis": null},
    "color": {"field": "s", "type": "nominal", "scale": {"domain": ["λ=0.095", "λ=0.1", "λ=0.12", "λ=0.2"], "range": ["#0000ff", "#008000", "#ff0000", "#7e2f8e"]}, "legend": {"orient": "none", "legendX": 299.6, "legendY": 127.7, "title": null}},
    "strokeDash": {"field": "s", "type": "nominal", "scale": {"domain": ["λ=0.095", "λ=0.1", "λ=0.12", "λ=0.2"], "range": [[1.2, 2.4], [7, 4], [1, 0], [7, 3, 1.5, 3]]}, "legend": {"orient": "none", "legendX": 299.6, "legendY": 127.7, "title": null}}
  }},
  {"data": {"values": [{}]}, "mark": {"type": "rule", "color": "#000000", "strokeWidth": 1.2}, "encoding": {
    "x": {"datum": 0, "type": "quantitative", "scale": {"domain": [0, 0.2], "range": [38, 270.6]}, "axis": {"orient": "top", "offset": -89.7, "values": [0, 0.05, 0.1, 0.15, 0.2], "labels": false, "title": null, "zindex": 1, "tickSize": -4}},
    "x2": {"datum": 0.2},
    "y": {"datum": 0, "type": "quantitative", "scale": {"domain": [-0.2, 0.2], "range": [189.3, 89.7]}, "axis": {"orient": "right", "offset": -277.4, "values": [-0.2, 0, 0.2], "labels": false, "title": null, "zindex": 1, "tickSize": -4}}
  }}
 ]}
]
}
]
},
{
"title": {"text": "(b)Quarantine", "dx": 277.5},
"bounds": "flush",
"spacing": 26,
"resolve": {"scale": {"color": "independent", "strokeDash": "independent"}},
"vconcat": [
{
"width": 555, "height": 200,
"resolve": {"scale": {"x": "independent", "y": "independent"}},
"layer": [
{"resolve": {"axis": {"x": "independent", "y": "independent"}},
 "layer": [
  {"data": {"name": "bi"}, "mark": "line", "encoding": {
    "x": {"field": "x", "type": "quantitative", "scale": {"domain": [0, 1]}, "axis": {"orient": "bottom", "values": [0, 0.2, 0.4, 0.6, 0.8, 1], "title": null}},
    "y": {"field": "y", "type": "quantitative", "scale": {"domain": [-0.6, 0.2]}, "axis": {"orient": "left", "values": [-0.6, -0.4, -0.2, 0, 0.2], "title": "F(x, λ, α)", "titleY": 100}},
    "color": {"field": "s", "type": "nominal", "scale": {"domain": ["λ=0.11", "λ=0.125", "λ=0.15", "λ=0.2"], "range": ["#0000ff", "#008000", "#ff0000", "#7e2f8e"]}, "legend": {"orient": "none", "legendX": 279.9, "legendY": 109.7, "title": null}},
    "strokeDash": {"field": "s", "type": "nominal", "scale": {"domain": ["λ=0.11", "λ=0.125", "λ=0.15", "λ=0.2"], "range": [[1.2, 2.4], [7, 4], [1, 0], [7, 3, 1.5, 3]]}, "legend": {"orient": "none", "legendX": 279.9, "legendY": 109.7, "title": null}}
  }},
  {"data": {"values": [{}]}, "mark": {"type": "rule", "color": "#000000", "strokeWidth": 1.2}, "encoding": {"y": {"datum": 0, "type": "quantitative", "scale": {"domain": [-0.6, 0.2]}, "axis": null}}},
  {"data": {"values": [{}]}, "mark": {"type": "text", "font": "DejaVu Serif", "fontSize": 21, "align": "right", "baseline": "middle"}, "encoding": {
    "text": {"value": "(i)"},
    "x": {"datum": 0.995, "type": "quantitative", "scale": {"domain": [0, 1]}, "axis": {"orient": "top", "values": [0, 0.2, 0.4, 0.6, 0.8, 1], "labels": false, "title": null}},
    "y": {"datum": 0.116, "type": "quantitative", "scale": {"domain": [-0.6, 0.2]}, "axis": {"orient": "right", "values": [-0.6, -0.4, -0.2, 0, 0.2], "labels": false, "title": null}}
  }}
 ]},
{"resolve": {"axis": {"x": "independent", "y": "independent"}},
 "layer": [
  {"data": {"values": [{}]}, "mark": {"type": "rect", "fill": "#ffffff", "stroke": "#262626", "strokeWidth": 1}, "encoding": {
    "x": {"datum": 0, "type": "quantitative", "scale": {"domain": [0, 0.1], "range": [41.3, 270.3]}, "axis": {"orient": "bottom", "offset": -23.3, "values": [0, 0.05, 0.1], "title": null, "zindex": 1, "tickSize": -4, "labelPadding": 13, "labelFontSize": 14}},
    "x2": {"datum": 0.1},
    "y": {"datum": -0.05, "type": "quantitative", "scale": {"domain": [-0.05, 0.05], "range": [176.7, 75.7]}, "axis": {"orient": "left", "offset": -41.3, "values": [-0.05, 0, 0.05], "title": null, "zindex": 1, "tickSize": -4, "labelPadding": 9.6, "labelFontSize": 14}},
    "y2": {"datum": 0.05}
  }},
  {"data": {"name": "bi_in"}, "mark": "line", "encoding": {
    "x": {"field": "x", "type": "quantitative", "scale": {"domain": [0, 0.1], "range": [41.3, 270.3]}, "axis": null},
    "y": {"field": "y", "type": "quantitative", "scale": {"domain": [-0.05, 0.05], "range": [176.7, 75.7]}, "axis": null},
    "color": {"field": "s", "type": "nominal", "scale": {"domain": ["λ=0.11", "λ=0.125", "λ=0.15", "λ=0.2"], "range": ["#0000ff", "#008000", "#ff0000", "#7e2f8e"]}, "legend": {"orient": "none", "legendX": 279.9, "legendY": 109.7, "title": null}},
    "strokeDash": {"field": "s", "type": "nominal", "scale": {"domain": ["λ=0.11", "λ=0.125", "λ=0.15", "λ=0.2"], "range": [[1.2, 2.4], [7, 4], [1, 0], [7, 3, 1.5, 3]]}, "legend": {"orient": "none", "legendX": 279.9, "legendY": 109.7, "title": null}}
  }},
  {"data": {"values": [{}]}, "mark": {"type": "rule", "color": "#000000", "strokeWidth": 1.2}, "encoding": {
    "x": {"datum": 0, "type": "quantitative", "scale": {"domain": [0, 0.1], "range": [41.3, 270.3]}, "axis": {"orient": "top", "offset": -75.7, "values": [0, 0.05, 0.1], "labels": false, "title": null, "zindex": 1, "tickSize": -4}},
    "x2": {"datum": 0.1},
    "y": {"datum": 0, "type": "quantitative", "scale": {"domain": [-0.05, 0.05], "range": [176.7, 75.7]}, "axis": {"orient": "right", "offset": -284.7, "values": [-0.05, 0, 0.05], "labels": false, "title": null, "zindex": 1, "tickSize": -4}}
  }}
 ]}
]
},
{
"width": 555, "height": 211,
"resolve": {"scale": {"x": "independent", "y": "independent"}},
"layer": [
{"resolve": {"axis": {"x": "independent", "y": "independent"}},
 "layer": [
  {"data": {"name": "bii"}, "mark": "line", "encoding": {
    "x": {"field": "x", "type": "quantitative", "scale": {"domain": [0, 1]}, "axis": {"orient": "bottom", "values": [0, 0.2, 0.4, 0.6, 0.8, 1], "title": null}},
    "y": {"field": "y", "type": "quantitative", "scale": {"domain": [-0.6, 0.2]}, "axis": {"orient": "left", "values": [-0.6, -0.4, -0.2, 0, 0.2], "title": "F(x, λ, α)", "titleY": 105.5}},
    "color": {"field": "s", "type": "nominal", "scale": {"domain": ["λ=0.1", "λ=0.115", "λ=0.12", "λ=0.15"], "range": ["#0000ff", "#008000", "#ff0000", "#7e2f8e"]}, "legend": {"orient": "none", "legendX": 289.3, "legendY": 118, "title": null}},
    "strokeDash": {"field": "s", "type": "nominal", "scale": {"domain": ["λ=0.1", "λ=0.115", "λ=0.12", "λ=0.15"], "range": [[1.2, 2.4], [7, 4], [1, 0], [7, 3, 1.5, 3]]}, "legend": {"orient": "none", "legendX": 289.3, "legendY": 118, "title": null}}
  }},
  {"data": {"values": [{}]}, "mark": {"type": "rule", "color": "#000000", "strokeWidth": 1.2}, "encoding": {"y": {"datum": 0, "type": "quantitative", "scale": {"domain": [-0.6, 0.2]}, "axis": null}}},
  {"data": {"values": [{}]}, "mark": {"type": "text", "font": "DejaVu Serif", "fontSize": 21, "align": "right", "baseline": "middle"}, "encoding": {
    "text": {"value": "(ii)"},
    "x": {"datum": 0.995, "type": "quantitative", "scale": {"domain": [0, 1]}, "axis": {"orient": "top", "values": [0, 0.2, 0.4, 0.6, 0.8, 1], "labels": false, "title": null}},
    "y": {"datum": 0.105, "type": "quantitative", "scale": {"domain": [-0.6, 0.2]}, "axis": {"orient": "right", "values": [-0.6, -0.4, -0.2, 0, 0.2], "labels": false, "title": null}}
  }}
 ]},
{"resolve": {"axis": {"x": "independent", "y": "independent"}},
 "layer": [
  {"data": {"values": [{}]}, "mark": {"type": "rect", "fill": "#ffffff", "stroke": "#262626", "strokeWidth": 1}, "encoding": {
    "x": {"datum": 0, "type": "quantitative", "scale": {"domain": [0, 0.1], "range": [47.3, 274.7]}, "axis": {"orient": "bottom", "offset": -26.7, "values": [0, 0.05, 0.1], "title": null, "zindex": 1, "tickSize": -4, "labelPadding": 13, "labelFontSize": 14}},
    "x2": {"datum": 0.1},
    "y": {"datum": -0.02, "type": "quantitative", "scale": {"domain": [-0.02, 0.04], "range": [184.3, 66.3]}, "axis": {"orient": "left", "offset": -47.3, "values": [-0.02, 0, 0.02, 0.04], "title": null, "zindex": 1, "tickSize": -4, "labelPadding": 9.6, "labelFontSize": 14}},
    "y2": {"datum": 0.04}
  }},
  {"data": {"name": "bii_in"}, "mark": "line", "encoding": {
    "x": {"field": "x", "type": "quantitative", "scale": {"domain": [0, 0.1], "range": [47.3, 274.7]}, "axis": null},
    "y": {"field": "y", "type": "quantitative", "scale": {"domain": [-0.02, 0.04], "range": [184.3, 66.3]}, "axis": null},
    "color": {"field": "s", "type": "nominal", "scale": {"domain": ["λ=0.1", "λ=0.115", "λ=0.12", "λ=0.15"], "range": ["#0000ff", "#008000", "#ff0000", "#7e2f8e"]}, "legend": {"orient": "none", "legendX": 289.3, "legendY": 118, "title": null}},
    "strokeDash": {"field": "s", "type": "nominal", "scale": {"domain": ["λ=0.1", "λ=0.115", "λ=0.12", "λ=0.15"], "range": [[1.2, 2.4], [7, 4], [1, 0], [7, 3, 1.5, 3]]}, "legend": {"orient": "none", "legendX": 289.3, "legendY": 118, "title": null}}
  }},
  {"data": {"values": [{}]}, "mark": {"type": "rule", "color": "#000000", "strokeWidth": 1.2}, "encoding": {
    "x": {"datum": 0, "type": "quantitative", "scale": {"domain": [0, 0.1], "range": [47.3, 274.7]}, "axis": {"orient": "top", "offset": -66.3, "values": [0, 0.05, 0.1], "labels": false, "title": null, "zindex": 1, "tickSize": -4}},
    "x2": {"datum": 0.1},
    "y": {"datum": 0, "type": "quantitative", "scale": {"domain": [-0.02, 0.04], "range": [184.3, 66.3]}, "axis": {"orient": "right", "offset": -280.3, "values": [-0.02, 0, 0.02, 0.04], "labels": false, "title": null, "zindex": 1, "tickSize": -4}}
  }}
 ]}
]
},
{
"width": 555, "height": 214,
"resolve": {"scale": {"x": "independent", "y": "independent"}},
"layer": [
{"resolve": {"axis": {"x": "independent", "y": "independent"}},
 "layer": [
  {"data": {"name": "biii"}, "mark": "line", "encoding": {
    "x": {"field": "x", "type": "quantitative", "scale": {"domain": [0, 1]}, "axis": {"orient": "bottom", "values": [0, 0.2, 0.4, 0.6, 0.8, 1], "title": "x", "titleX": 277.5, "titleY": 59}},
    "y": {"field": "y", "type": "quantitative", "scale": {"domain": [-0.8, 0.2]}, "axis": {"orient": "left", "values": [-0.8, -0.6, -0.4, -0.2, 0, 0.2], "title": "F(x, λ, α)", "titleY": 107}},
    "color": {"field": "s", "type": "nominal", "scale": {"domain": ["λ=0.15", "λ=0.2", "λ=0.25", "λ=0.4"], "range": ["#0000ff", "#008000", "#ff0000", "#7e2f8e"]}, "legend": {"orient": "none", "legendX": 293.6, "legendY": 114.3, "title": null}},
    "strokeDash": {"field": "s", "type": "nominal", "scale": {"domain": ["λ=0.15", "λ=0.2", "λ=0.25", "λ=0.4"], "range": [[1.2, 2.4], [7, 4], [1, 0], [7, 3, 1.5, 3]]}, "legend": {"orient": "none", "legendX": 293.6, "legendY": 114.3, "title": null}}
  }},
  {"data": {"values": [{}]}, "mark": {"type": "rule", "color": "#000000", "strokeWidth": 1.2}, "encoding": {"y": {"datum": 0, "type": "quantitative", "scale": {"domain": [-0.8, 0.2]}, "axis": null}}},
  {"data": {"values": [{}]}, "mark": {"type": "text", "font": "DejaVu Serif", "fontSize": 21, "align": "right", "baseline": "middle"}, "encoding": {
    "text": {"value": "(iii)"},
    "x": {"datum": 0.995, "type": "quantitative", "scale": {"domain": [0, 1]}, "axis": {"orient": "top", "values": [0, 0.2, 0.4, 0.6, 0.8, 1], "labels": false, "title": null}},
    "y": {"datum": 0.107, "type": "quantitative", "scale": {"domain": [-0.8, 0.2]}, "axis": {"orient": "right", "values": [-0.8, -0.6, -0.4, -0.2, 0, 0.2], "labels": false, "title": null}}
  }}
 ]},
{"resolve": {"axis": {"x": "independent", "y": "independent"}},
 "layer": [
  {"data": {"values": [{}]}, "mark": {"type": "rect", "fill": "#ffffff", "stroke": "#262626", "strokeWidth": 1}, "encoding": {
    "x": {"datum": 0, "type": "quantitative", "scale": {"domain": [0, 0.1], "range": [48.6, 271.2]}, "axis": {"orient": "bottom", "offset": -28.3, "values": [0, 0.05, 0.1], "title": null, "zindex": 1, "tickSize": -4, "labelPadding": 13, "labelFontSize": 14}},
    "x2": {"datum": 0.1},
    "y": {"datum": -0.05, "type": "quantitative", "scale": {"domain": [-0.05, 0.1], "range": [185.7, 83.7]}, "axis": {"orient": "left", "offset": -48.6, "values": [-0.05, 0, 0.05, 0.1], "title": null, "zindex": 1, "tickSize": -4, "labelPadding": 9.6, "labelFontSize": 14}},
    "y2": {"datum": 0.1}
  }},
  {"data": {"name": "biii_in"}, "mark": "line", "encoding": {
    "x": {"field": "x", "type": "quantitative", "scale": {"domain": [0, 0.1], "range": [48.6, 271.2]}, "axis": null},
    "y": {"field": "y", "type": "quantitative", "scale": {"domain": [-0.05, 0.1], "range": [185.7, 83.7]}, "axis": null},
    "color": {"field": "s", "type": "nominal", "scale": {"domain": ["λ=0.15", "λ=0.2", "λ=0.25", "λ=0.4"], "range": ["#0000ff", "#008000", "#ff0000", "#7e2f8e"]}, "legend": {"orient": "none", "legendX": 293.6, "legendY": 114.3, "title": null}},
    "strokeDash": {"field": "s", "type": "nominal", "scale": {"domain": ["λ=0.15", "λ=0.2", "λ=0.25", "λ=0.4"], "range": [[1.2, 2.4], [7, 4], [1, 0], [7, 3, 1.5, 3]]}, "legend": {"orient": "none", "legendX": 293.6, "legendY": 114.3, "title": null}}
  }},
  {"data": {"values": [{}]}, "mark": {"type": "rule", "color": "#000000", "strokeWidth": 1.2}, "encoding": {
    "x": {"datum": 0, "type": "quantitative", "scale": {"domain": [0, 0.1], "range": [48.6, 271.2]}, "axis": {"orient": "top", "offset": -83.7, "values": [0, 0.05, 0.1], "labels": false, "title": null, "zindex": 1, "tickSize": -4}},
    "x2": {"datum": 0.1},
    "y": {"datum": 0, "type": "quantitative", "scale": {"domain": [-0.05, 0.1], "range": [185.7, 83.7]}, "axis": {"orient": "right", "offset": -283.8, "values": [-0.05, 0, 0.05, 0.1], "labels": false, "title": null, "zindex": 1, "tickSize": -4}}
  }}
 ]}
]
}
]
}
]
}
